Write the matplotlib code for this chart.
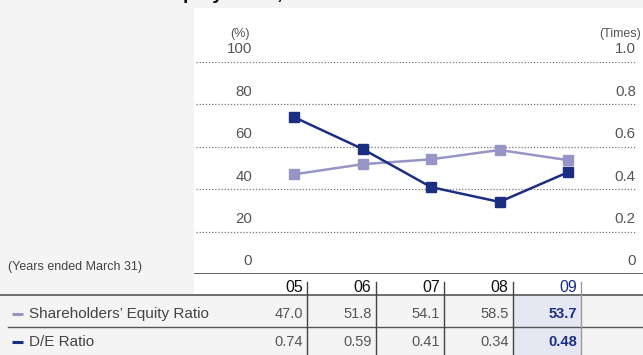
import matplotlib
matplotlib.use("Agg")
import matplotlib.pyplot as plt
from matplotlib.patches import Rectangle
from matplotlib.transforms import blended_transform_factory

plt.rcParams['font.family'] = ['Liberation Sans', 'DejaVu Sans']

# data
years = ['05', '06', '07', '08', '09']
equity_ratio = [47.0, 51.8, 54.1, 58.5, 53.7]
de_ratio = [0.74, 0.59, 0.41, 0.34, 0.48]
left_ticks = [0, 20, 40, 60, 80, 100]
right_ticks = [0, 0.2, 0.4, 0.6, 0.8, 1.0]
right_labels = ['0', '0.2', '0.4', '0.6', '0.8', '1.0']
row_labels = ['Shareholders’ Equity Ratio', 'D/E Ratio']

light = '#9794c6'
navy = '#1c2e82'
grey_txt = '#555555'
line_c = '#555555'

W, H = 643, 355
fig = plt.figure(figsize=(W / 100, H / 100), dpi=100, facecolor='#f4f4f4')

# full-figure axes in pixel units for the frame and table
bg = fig.add_axes([0, 0, 1, 1])
bg.set_xlim(0, W)
bg.set_ylim(H, 0)
bg.axis('off')
bg.patch.set_alpha(0)

bg.add_patch(Rectangle((194, 8), W - 194, 287, facecolor='white', edgecolor='none'))
bg.text(29, -1, 'Shareholders’ Equity Ratio, D/E Ratio', fontsize=14,
        fontweight='bold', color='#111111', va='baseline', ha='left')

# chart axes
x0 = 294
step = 68.5
ax = fig.add_axes([194 / W, 1 - 274 / H, (W - 194) / W, (274 - 62) / H])
ax.set_xlim((194 - x0) / step, (W - x0) / step)
ax.set_ylim(0, 100)
ax.patch.set_alpha(0)
for s in ax.spines.values():
    s.set_visible(False)
ax.set_xticks([])
ax.set_yticks([])

xs = list(range(len(years)))
for v in left_ticks[1:]:
    ax.axhline(v, color='#777777', lw=0.9, ls=(0, (1, 1.5)), xmin=0.005, xmax=0.985)
ax.axhline(0, color=line_c, lw=1.3)

for v in left_ticks:
    ax.text(-0.61, v + 2.6, f'{v}', ha='right', va='bottom', fontsize=10.8, color=grey_txt)
ax2 = ax.twinx()
ax2.set_ylim(0, 1.0)
ax2.axis('off')
for v, lab in zip(right_ticks, right_labels):
    ax2.text(4.99, v + 0.026, lab, ha='right', va='bottom', fontsize=10.8, color=grey_txt)
ax.text(-0.79, 110.5, '(%)', ha='center', va='bottom', fontsize=9, color=grey_txt)
ax.text(5.07, 110.5, '(Times)', ha='right', va='bottom', fontsize=9, color=grey_txt)

ax.plot(xs, equity_ratio, color=light, lw=1.8, marker='s', ms=7, zorder=3)
ax2.plot(xs, de_ratio, color=navy, lw=1.8, marker='s', ms=7, zorder=4)

# table under the chart: x follows the chart's year positions, y in pixels
tr = blended_transform_factory(ax.transData, bg.transData)
edge = 13 / step
last = len(years) - 1
bg.add_patch(Rectangle((last - 1 + edge, 295), 1, 60, transform=tr,
                       facecolor='#e5e7f3', edgecolor='none'))

bg.plot([0, W], [295, 295], color=line_c, lw=1.2)
bg.plot([8, W], [327, 327], color=line_c, lw=1.0)

for i, yr in enumerate(years):
    c = navy if i == last else '#111111'
    bg.text(i + edge - 4 / step, 292, yr, transform=tr, ha='right', va='baseline',
            fontsize=11.5, color=c)
    lc = '#999999' if i == last else '#444444'
    bg.plot([i + edge, i + edge], [282, H], transform=tr, color=lc, lw=1.0)
    ev, dv = equity_ratio[i], de_ratio[i]
    kw = dict(fontweight='bold', color=navy) if i == last else dict(color=grey_txt)
    bg.text(i + edge - 4 / step, 314, f'{ev:.1f}', transform=tr, ha='right',
            va='center', fontsize=10.5, **kw)
    bg.text(i + edge - 4 / step, 342, f'{dv:.2f}', transform=tr, ha='right',
            va='center', fontsize=10.5, **kw)

bg.text(8, 267, '(Years ended March 31)', ha='left', va='center', fontsize=9, color='#444444')
for y, lab, c in [(314, row_labels[0], light), (342, row_labels[1], navy)]:
    bg.plot([12, 23], [y, y], color=c, lw=2.2, solid_capstyle='butt')
    bg.text(29, y, lab, ha='left', va='center', fontsize=11, color='#444444')

fig.savefig('out.png', dpi=100, facecolor=fig.get_facecolor())
